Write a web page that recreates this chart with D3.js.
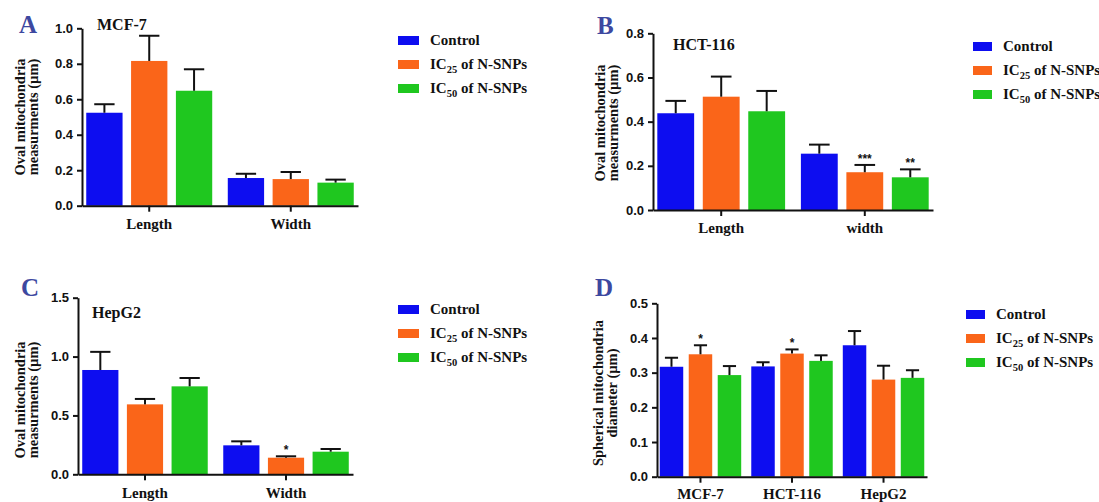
<!DOCTYPE html>
<html>
<head>
<meta charset="utf-8"/>
<title>Mitochondria measurements</title>
<script src="https://d3js.org/d3.v7.min.js"></script>
<style>
  body { margin: 0; background: #fff; }
  text { font-family: "Liberation Serif", "Times New Roman", serif; font-weight: bold; fill: #111; }
  .tick text { font-family: "Liberation Sans", Arial, sans-serif; font-size: 13px; }
</style>
</head>
<body>
<svg id="chart" width="1099" height="502"></svg>
<script>
// series shared by all four panels
var seriesLabels = ["Control", "IC25", "IC50"];
var colors = ["#0d0df0", "#fa6519", "#1fc71f"];

// A - MCF-7
var aCategories = ["Length", "Width"];
var aControl = [0.524, 0.156], aControlSd = [0.048, 0.024];
var aIc25 = [0.816, 0.150], aIc25Sd = [0.142, 0.040];
var aIc50 = [0.648, 0.130], aIc50Sd = [0.121, 0.017];
var aTicks = [0, 0.2, 0.4, 0.6, 0.8, 1.0];

// B - HCT-116
var bCategories = ["Length", "width"];
var bControl = [0.438, 0.255], bControlSd = [0.056, 0.041];
var bIc25 = [0.513, 0.171], bIc25Sd = [0.091, 0.033];
var bIc50 = [0.447, 0.148], bIc50Sd = [0.092, 0.036];
var bStars = [["", ""], ["", "***"], ["", "**"]];
var bTicks = [0, 0.2, 0.4, 0.6, 0.8];

// C - HepG2
var cCategories = ["Length", "Width"];
var cControl = [0.886, 0.246], cControlSd = [0.154, 0.034];
var cIc25 = [0.594, 0.141], cIc25Sd = [0.046, 0.012];
var cIc50 = [0.747, 0.192], cIc50Sd = [0.071, 0.023];
var cStars = [["", ""], ["", "*"], ["", ""]];
var cTicks = [0, 0.5, 1.0, 1.5];

// D - spherical diameter
var dCategories = ["MCF-7", "HCT-116", "HepG2"];
var dControl = [0.317, 0.318, 0.379], dControlSd = [0.026, 0.012, 0.041];
var dIc25 = [0.353, 0.355, 0.280], dIc25Sd = [0.026, 0.012, 0.040];
var dIc50 = [0.293, 0.334, 0.285], dIc50Sd = [0.026, 0.016, 0.022];
var dStars = [["", "", ""], ["*", "*", ""], ["", "", ""]];
var dTicks = [0, 0.1, 0.2, 0.3, 0.4, 0.5];

var svg = d3.select("#chart");

function drawPanel(p) {
  var g = svg.append("g");

  var y = d3.scaleLinear().domain([0, p.yMax]).range([p.yBottom, p.yTop]);
  var x = d3.scaleBand().domain(p.categories).range([p.x0, p.x1])
    .paddingInner(0.11).paddingOuter(0.03);
  var xs = d3.scaleBand().domain([0, 1, 2]).range([0, x.bandwidth()]).paddingInner(0.19);

  // bars
  p.values.forEach(function(vals, s) {
    vals.forEach(function(v, i) {
      var bx = x(p.categories[i]) + xs(s);
      var bw = xs.bandwidth();
      var cx = bx + bw / 2;
      var top = v + p.sds[s][i];
      g.append("rect")
        .attr("x", bx).attr("y", y(v))
        .attr("width", bw).attr("height", y(0) - y(v))
        .attr("fill", colors[s]);
      // upper error bar
      g.append("line").attr("x1", cx).attr("x2", cx)
        .attr("y1", y(v)).attr("y2", y(top))
        .attr("stroke", "#111").attr("stroke-width", 2);
      g.append("line").attr("x1", cx - bw * 0.28).attr("x2", cx + bw * 0.28)
        .attr("y1", y(top)).attr("y2", y(top))
        .attr("stroke", "#111").attr("stroke-width", 2);
      if (p.stars && p.stars[s][i]) {
        g.append("text").attr("x", cx).attr("y", y(top) - 2)
          .attr("text-anchor", "middle").style("font-size", "12px")
          .style("font-family", "Liberation Sans, Arial, sans-serif")
          .text(p.stars[s][i]);
      }
    });
  });

  // y axis
  var ya = g.append("g").attr("transform", "translate(" + p.x0 + ",0)")
    .call(d3.axisLeft(y).tickValues(p.ticks).tickFormat(d3.format(".1f"))
      .tickSize(5).tickSizeOuter(0).tickPadding(4));
  ya.selectAll("path, line").attr("stroke", "#111").attr("stroke-width", 2);

  // x axis
  var xa = g.append("g").attr("transform", "translate(0," + p.yBottom + ")")
    .call(d3.axisBottom(x).tickSize(6).tickSizeOuter(0).tickFormat(""));
  xa.selectAll("path, line").attr("stroke", "#111").attr("stroke-width", 2);

  p.categories.forEach(function(c) {
    g.append("text").attr("x", x(c) + x.bandwidth() / 2).attr("y", p.catY)
      .attr("text-anchor", "middle").style("font-size", "15px").text(c);
  });

  // y axis title, two lines
  p.yTitle.forEach(function(t, k) {
    g.append("text")
      .attr("transform", "translate(" + p.yTitleX[k] + "," + p.yTitleY + ") rotate(-90)")
      .attr("text-anchor", "middle").style("font-size", "14.5px").text(t);
  });

  // panel letter and title
  g.append("text").attr("x", p.letterX).attr("y", p.letterY)
    .style("font-size", "25px").style("fill", "#3d48a0").text(p.letter);
  if (p.title) {
    g.append("text").attr("x", p.titleX).attr("y", p.titleY)
      .style("font-size", "16px").text(p.title);
  }

  // legend
  seriesLabels.forEach(function(lab, s) {
    var ly = p.legY + s * p.legStep;
    g.append("rect").attr("x", p.legX).attr("y", ly - 4)
      .attr("width", p.legW).attr("height", 9).attr("fill", colors[s]);
    var t = g.append("text").attr("x", p.legX + p.legW + 11).attr("y", ly + 5)
      .style("font-size", "15px");
    if (s === 0) {
      t.text(lab);
    } else {
      t.append("tspan").text("IC");
      t.append("tspan").attr("dy", 4).style("font-size", "10.5px").text(lab.slice(2));
      t.append("tspan").attr("dy", -4).text(" of N-SNPs");
    }
  });
}

drawPanel({
  letter: "A", letterX: 19, letterY: 33, title: "MCF-7", titleX: 97, titleY: 30,
  categories: aCategories,
  values: [aControl, aIc25, aIc50], sds: [aControlSd, aIc25Sd, aIc50Sd],
  yMax: 1.0, ticks: aTicks, x0: 82, x1: 358, yTop: 28.3, yBottom: 205.7, catY: 229,
  yTitle: ["Oval mitochondria", "measurments (\u00b5m)"], yTitleX: [25, 38], yTitleY: 117,
  legX: 398, legW: 21, legY: 40, legStep: 24
});

drawPanel({
  letter: "B", letterX: 597, letterY: 34, title: "HCT-116", titleX: 673, titleY: 50,
  categories: bCategories,
  values: [bControl, bIc25, bIc50], sds: [bControlSd, bIc25Sd, bIc50Sd], stars: bStars,
  yMax: 0.8, ticks: bTicks, x0: 653, x1: 933, yTop: 33.3, yBottom: 210, catY: 233,
  yTitle: ["Oval mitochondria", "measurments (\u00b5m)"], yTitleX: [605, 618], yTitleY: 123,
  legX: 973, legW: 19, legY: 46, legStep: 24
});

drawPanel({
  letter: "C", letterX: 21, letterY: 296, title: "HepG2", titleX: 92, titleY: 318,
  categories: cCategories,
  values: [cControl, cIc25, cIc50], sds: [cControlSd, cIc25Sd, cIc50Sd], stars: cStars,
  yMax: 1.5, ticks: cTicks, x0: 78, x1: 353, yTop: 297.7, yBottom: 474.3, catY: 498,
  yTitle: ["Oval mitochondria", "measurments (\u00b5m)"], yTitleX: [25, 38], yTitleY: 400,
  legX: 398, legW: 21, legY: 309, legStep: 24
});

drawPanel({
  letter: "D", letterX: 595, letterY: 296,
  categories: dCategories,
  values: [dControl, dIc25, dIc50], sds: [dControlSd, dIc25Sd, dIc50Sd], stars: dStars,
  yMax: 0.5, ticks: dTicks, x0: 657, x1: 927, yTop: 303.3, yBottom: 476.7, catY: 499,
  yTitle: ["Spherical mitochondria", "diameter (\u00b5m)"], yTitleX: [603, 617], yTitleY: 393,
  legX: 966, legW: 19, legY: 314, legStep: 24
});
</script>
</body>
</html>
